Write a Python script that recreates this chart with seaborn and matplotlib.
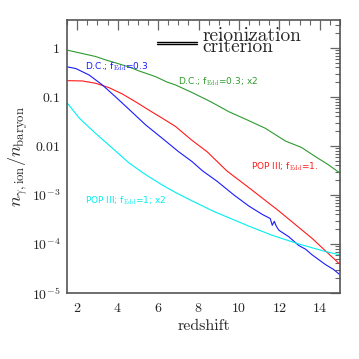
import numpy as np
import pandas as pd
import matplotlib
matplotlib.use("Agg")
import matplotlib.pyplot as plt
import seaborn as sns

# valores (redshift, n_gamma/n_baryon)
z_green = [1.52, 2.9, 3.41, 4.56, 5.05, 5.87, 6.46, 6.86, 7.68, 8.6, 9.5, 10.34, 11.3, 12.3, 13.1, 13.8, 14.4, 15.0]
v_green = [0.9, 0.67, 0.57, 0.41, 0.34, 0.26, 0.20, 0.176, 0.123, 0.08, 0.05, 0.035, 0.023, 0.0126, 0.0093, 0.006, 0.0042, 0.0028]

z_red = [1.52, 2.26, 2.91, 3.57, 4.23, 4.88, 5.54, 6.2, 6.86, 7.68, 8.43, 9.4, 10.5, 11.98, 13.62, 14.95]
v_red = [0.215, 0.212, 0.19, 0.155, 0.115, 0.08, 0.054, 0.037, 0.025, 0.013, 0.0076, 0.0031, 0.0014, 4.7e-4, 1.3e-4, 4.0e-5]

z_blue = [1.52, 1.93, 2.59, 3.24, 3.9, 4.56, 5.38, 6.2, 7.02, 7.68, 8.2, 8.92, 9.75, 10.5, 11.16,
          11.55, 11.65, 11.75, 11.85, 11.98, 12.47, 12.96, 13.3, 13.62, 14.28, 14.69, 14.97]
v_blue = [0.41, 0.38, 0.28, 0.176, 0.10, 0.056, 0.027, 0.0144, 0.0076, 0.0048, 0.0031, 0.0019, 0.001, 5.9e-4, 4.0e-4,
          3.3e-4, 2.4e-4, 2.9e-4, 2.3e-4, 1.9e-4, 1.4e-4, 9.3e-5, 7.8e-5, 6.0e-5, 3.8e-5, 3.0e-5, 2.4e-5]

z_cyan = [1.52, 2.1, 2.91, 3.74, 4.56, 5.38, 6.2, 6.9, 7.7, 8.76, 9.75, 10.5, 11.65, 12.96, 14.28, 15.0]
v_cyan = [0.074, 0.037, 0.018, 0.009, 0.0045, 0.0026, 0.0016, 0.0011, 7.5e-4, 4.6e-4, 3.1e-4, 2.3e-4, 1.5e-4, 1.0e-4, 7.0e-5, 6.0e-5]

series = ["green", "red", "blue", "cyan"]
cores = {"green": "#2e9a2e", "red": "#ff1a1a", "blue": "#1a1aff", "cyan": "#00f0f0"}

ytick_vals = [1e-5, 1e-4, 1e-3, 1e-2, 1e-1, 1]
ytick_labels = [r"$10^{-5}$", r"$10^{-4}$", r"$10^{-3}$", r"$0.01$", r"$0.1$", r"$1$"]
xtick_vals = [2, 4, 6, 8, 10, 12, 14]

# monta o dataframe longo
df = pd.concat([
    pd.DataFrame({"z": z_green, "v": v_green, "s": "green"}),
    pd.DataFrame({"z": z_red, "v": v_red, "s": "red"}),
    pd.DataFrame({"z": z_blue, "v": v_blue, "s": "blue"}),
    pd.DataFrame({"z": z_cyan, "v": v_cyan, "s": "cyan"}),
])

sns.set_style("white")
plt.rcParams["mathtext.fontset"] = "cm"

fig = plt.figure(figsize=(3.59, 3.59), dpi=100)
ax = fig.add_axes([0.187, 0.184, 0.760, 0.760])

sns.lineplot(data=df, x="z", y="v", hue="s", palette=cores, hue_order=series,
             estimator=None, sort=False, linewidth=0.8, legend=False, ax=ax)

ax.set_yscale("log")
ax.set_xlim(1.5, 15)
ax.set_ylim(1e-5, 3.7)
ax.set_yticks(ytick_vals)
ax.set_yticklabels(ytick_labels)
ax.set_xticks(xtick_vals)
ax.set_xticklabels([f"${t}$" for t in xtick_vals])
ax.xaxis.set_minor_locator(matplotlib.ticker.MultipleLocator(0.5))

for s in ax.spines.values():
    s.set_color("#555555")
    s.set_linewidth(1.2)
ax.tick_params(which="both", direction="in", top=True, right=True, color="#666666")
ax.tick_params(which="major", length=7, width=0.9, labelsize=10, pad=6)
ax.tick_params(which="minor", length=3.5, width=0.8)
ax.tick_params(axis="y", which="major", pad=5)

ax.set_xlabel("redshift", family="cmr10", fontsize=11.5, labelpad=3)
ax.set_ylabel(r"$n_{\gamma,\rm ion}/n_{\rm baryon}$", fontsize=13, labelpad=1)

# rotulos das curvas
fs = 6.5
ax.text(2.4, 0.41, r"D.C.; f$_{\rm Edd}$=0.3", color=cores["blue"], fontsize=fs, va="center")
ax.text(7.0, 0.2, r"D.C.; f$_{\rm Edd}$=0.3; x2", color=cores["green"], fontsize=fs, va="center")
ax.text(10.6, 0.0037, r"POP III; f$_{\rm Edd}$=1.", color=cores["red"], fontsize=fs, va="center")
ax.text(2.4, 7.6e-4, r"POP III; f$_{\rm Edd}$=1; x2", color=cores["cyan"], fontsize=fs, va="center")

# legenda do criterio de reionizacao
ax.plot([0.331, 0.477], [0.920, 0.920], color="k", lw=1.0, transform=ax.transAxes)
ax.plot([0.331, 0.477], [0.911, 0.911], color="k", lw=1.0, transform=ax.transAxes)
ax.text(0.495, 0.922, "reionization\ncriterion", family="cmr10", fontsize=14, va="center",
        linespacing=0.5, transform=ax.transAxes)

fig.savefig("out.png", dpi=100)
